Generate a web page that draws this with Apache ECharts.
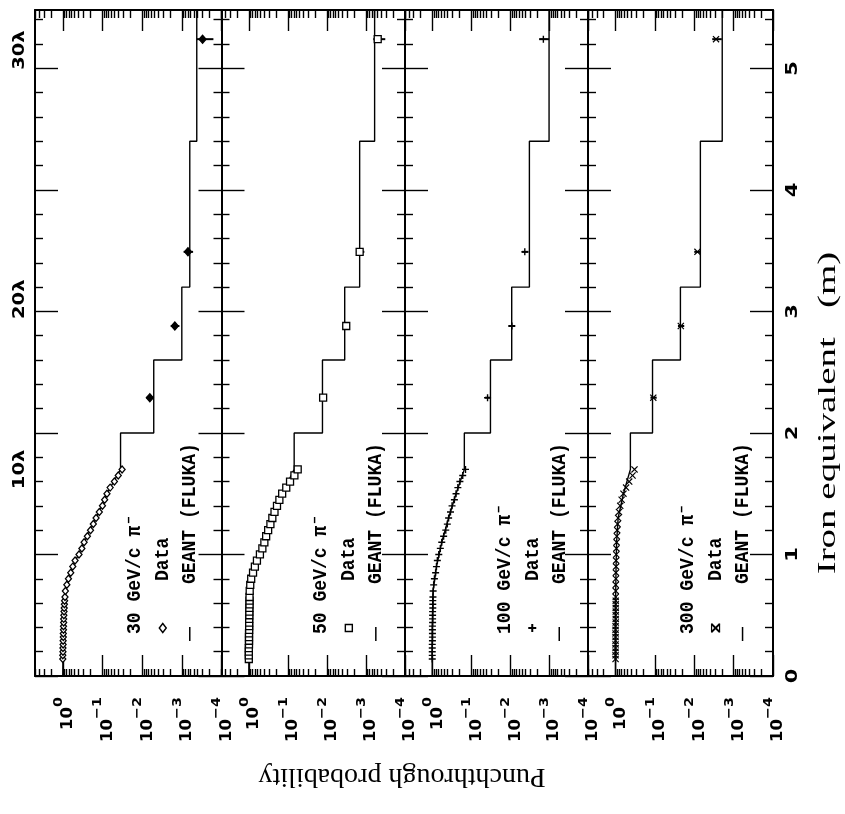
<!DOCTYPE html>
<html><head><meta charset="utf-8">
<script src="https://cdn.jsdelivr.net/npm/echarts@6/dist/echarts.min.js"></script>
<style>html,body{margin:0;padding:0;background:#fff}#c{width:845px;height:814px}</style>
</head><body><div id="c"></div>
<script>
// ---------- data ----------
const panelTitles = ['30 GeV/c π⁻', '50 GeV/c π⁻', '100 GeV/c π⁻', '300 GeV/c π⁻'];
const probTickValues = [1, 0.1, 0.01, 0.001, 0.0001];
const probTickBase = ['10', '10', '10', '10', '10'];
const probTickExp = ['0', '−1', '−2', '−3', '−4'];
const depthTickValues = [0, 1, 2, 3, 4, 5];
const depthTickLabels = ['0', '1', '2', '3', '4', '5'];
const lambdaLabels = ['10λ', '20λ', '30λ'];
const lambdaDepths = [1.70, 3.10, 5.15];

const denseDepth = [0.14,0.17,0.20,0.23,0.26,0.29,0.32,0.35,0.38,0.41,0.44,0.47,0.50,0.53,0.56,0.59,0.62,0.65,
  0.70,0.75,0.80,0.85,0.90,0.95,1.00,1.05,1.10,1.15,1.20,1.25,1.30,1.35,1.40,1.45,1.50,1.55,1.60,1.65,1.70];
const data30 = [1.00,1.00,0.99,0.99,0.98,0.98,0.97,0.97,0.96,0.96,0.95,0.95,0.94,0.93,0.92,0.91,0.90,0.88,
  0.86,0.79,0.72,0.63,0.56,0.49,0.39,0.33,0.29,0.24,0.20,0.17,0.145,0.12,0.10,0.088,0.077,0.064,0.050,0.040,0.032];
const data50 = [1.00,1.00,1.00,1.00,0.99,0.99,0.99,0.99,0.98,0.98,0.98,0.98,0.97,0.97,0.97,0.96,0.96,0.96,
  0.95,0.92,0.87,0.78,0.70,0.62,0.52,0.45,0.40,0.36,0.32,0.28,0.25,0.22,0.19,0.165,0.14,0.11,0.088,0.068,0.056];
const data100 = [1.00,1.00,1.00,1.00,1.00,0.99,0.99,0.99,0.99,0.99,0.98,0.98,0.98,0.98,0.97,0.97,0.97,0.96,
  0.95,0.92,0.88,0.82,0.78,0.74,0.68,0.62,0.57,0.51,0.45,0.41,0.38,0.34,0.31,0.27,0.245,0.22,0.195,0.165,0.14];
const data300 = [1.00,1.00,1.00,1.00,1.00,1.00,1.00,1.00,1.00,1.00,0.99,0.99,0.99,0.99,0.99,0.99,0.99,0.99,
  0.99,0.99,0.98,0.98,0.97,0.97,0.96,0.95,0.94,0.93,0.91,0.89,0.86,0.82,0.76,0.70,0.63,0.54,0.45,0.37,0.33];

const sparseDepth = [2.29, 2.88, 3.49, 5.24];
const sparse30 = [6.4e-3, 1.5e-3, 7.0e-4, 3.0e-4];
const sparse50 = [1.25e-2, 3.2e-3, 1.45e-3, 5.0e-4];
const sparse100 = [3.8e-2, 9.0e-3, 4.2e-3, 1.4e-3];
const sparse300 = [1.1e-1, 2.2e-2, 8.3e-3, 2.8e-3];
const sparse30Up = [7.8e-3, 1.9e-3, 9.0e-4, 4.2e-4];
const sparse30Dn = [5.2e-3, 1.15e-3, 5.2e-4, 1.6e-4];
const sparse50Up = [1.5e-2, 3.9e-3, 1.8e-3, 6.5e-4];
const sparse50Dn = [1.0e-2, 2.6e-3, 1.1e-3, 3.2e-4];
const sparse100Up = [4.4e-2, 1.1e-2, 5.0e-3, 1.8e-3];
const sparse100Dn = [3.2e-2, 7.5e-3, 3.4e-3, 1.0e-3];
const sparse300Up = [1.3e-1, 2.6e-2, 1.0e-2, 3.5e-3];
const sparse300Dn = [9.0e-2, 1.8e-2, 6.8e-3, 2.0e-3];

const geantCurveDepth = [0, 0.4, 0.7, 0.9, 1.1, 1.3, 1.5, 1.7];
const geant30Curve = [1.0, 0.97, 0.86, 0.56, 0.29, 0.145, 0.077, 0.035];
const geant50Curve = [1.0, 0.99, 0.95, 0.70, 0.40, 0.25, 0.14, 0.069];
const geant100Curve = [1.0, 0.99, 0.95, 0.78, 0.57, 0.38, 0.245, 0.15];
const geant300Curve = [1.0, 1.0, 0.99, 0.97, 0.94, 0.86, 0.63, 0.42];
const stepEdges = [1.7, 2.0, 2.6, 3.2, 4.4, 5.48];
const geant30Steps = [0.035, 5.1e-3, 1.0e-3, 6.3e-4, 4.2e-4];
const geant50Steps = [0.069, 0.013, 3.5e-3, 1.45e-3, 6.0e-4];
const geant100Steps = [0.15, 0.032, 9.1e-3, 3.2e-3, 1.0e-3];
const geant300Steps = [0.42, 0.115, 0.0225, 7.0e-3, 1.95e-3];

// ---------- layout / style ----------
const XMIN = 1e-4, XMAX = Math.pow(10, 0.7), YMIN = 0, YMAX = 5.48;
const TOP = 10, HEIGHT = 666;
const EDGES = [35, 221.5, 405, 588, 773];
const symbols = ['diamond', 'rect',
  'path://M4,0H6V4H10V6H6V10H4V6H0V4H4Z',
  'path://M0,1.2L1.2,0L5,3.8L8.8,0L10,1.2L6.2,5L10,8.8L8.8,10L5,6.2L1.2,10L0,8.8L3.8,5Z'];
const symbolFill = ['#fff', '#fff', '#000', '#000'];
const sparseFill = ['#000', '#fff', '#000', '#000'];
const panels = [
  {dense: data30, sparse: sparse30, up: sparse30Up, dn: sparse30Dn, curve: geant30Curve, steps: geant30Steps},
  {dense: data50, sparse: sparse50, up: sparse50Up, dn: sparse50Dn, curve: geant50Curve, steps: geant50Steps},
  {dense: data100, sparse: sparse100, up: sparse100Up, dn: sparse100Dn, curve: geant100Curve, steps: geant100Steps},
  {dense: data300, sparse: sparse300, up: sparse300Up, dn: sparse300Dn, curve: geant300Curve, steps: geant300Steps}
];

const minorX = [];
for (let e = -4; e <= 0; e++) for (let m = 2; m <= 9; m++) { const v = m * Math.pow(10, e); if (v <= XMAX) minorX.push(v); }
const minorY = [];
for (let k = 1; k * 0.2 < YMAX; k++) if (k % 5 !== 0) minorY.push(Math.round(k * 2) / 10);

const grids = [], xAxes = [], yAxes = [], series = [];
const LINE = {color: '#000', width: 2};
const TICK = {color: '#000', width: 1.4};

function xAx(g, pos, ticks, len, line) {
  return {gridIndex: g, type: 'log', logBase: 10, min: XMIN, max: XMAX, inverse: true, position: pos,
    axisLine: {show: line, onZero: false, lineStyle: LINE},
    axisTick: {show: true, inside: true, length: len, customValues: ticks, lineStyle: TICK},
    minorTick: {show: false}, splitLine: {show: false}, axisLabel: {show: false}};
}
function yAx(g, pos, ticks, len, line) {
  return {gridIndex: g, type: 'value', min: YMIN, max: YMAX, position: pos,
    axisLine: {show: line, onZero: false, lineStyle: LINE},
    axisTick: {show: true, inside: true, length: len, customValues: ticks, lineStyle: TICK},
    minorTick: {show: false}, splitLine: {show: false}, axisLabel: {show: false}};
}

const mainX = [];
panels.forEach((p, i) => {
  const left = EDGES[i], width = EDGES[i + 1] - EDGES[i];
  const g = grids.length;
  grids.push({left: left, top: TOP, width: width, height: HEIGHT, containLabel: false, outerBoundsMode: 'none'});
  const bx = xAxes.length;
  xAxes.push(xAx(g, 'bottom', probTickValues, 21, true));
  xAxes.push(xAx(g, 'top', probTickValues, 21, true));
  const ly = yAxes.length;
  yAxes.push(yAx(g, 'left', depthTickValues, 23, true));
  yAxes.push(yAx(g, 'right', depthTickValues, 23, true));
  mainX.push(bx);
  const g2 = grids.length;
  grids.push({left: left, top: TOP, width: width, height: HEIGHT, containLabel: false, outerBoundsMode: 'none'});
  xAxes.push(xAx(g2, 'bottom', minorX, 7, false));
  xAxes.push(xAx(g2, 'top', minorX, 8, false));
  yAxes.push(yAx(g2, 'left', minorY, 8, false));
  yAxes.push(yAx(g2, 'right', minorY, 8, false));

  const gl = p.curve.map((v, k) => [v, geantCurveDepth[k]]);
  p.steps.forEach((v, k) => { gl.push([v, stepEdges[k]]); gl.push([v, stepEdges[k + 1]]); });
  series.push({type: 'line', xAxisIndex: bx, yAxisIndex: ly, data: gl, showSymbol: false, symbol: 'none',
    lineStyle: {color: '#000', width: 1.4}, z: 1, silent: true});
  series.push({type: 'custom', xAxisIndex: bx, yAxisIndex: ly, z: 2, silent: true,
    data: sparseDepth.map((d, k) => [p.up[k], p.dn[k], d]),
    renderItem: function (params, api) {
      const a = api.coord([api.value(0), api.value(2)]);
      const b = api.coord([api.value(1), api.value(2)]);
      return {type: 'line', shape: {x1: a[0], y1: a[1], x2: b[0], y2: b[1]}, style: {stroke: '#000', lineWidth: 2}};
    }});
  series.push({type: 'scatter', xAxisIndex: bx, yAxisIndex: ly, data: denseDepth.map((d, k) => [p.dense[k], d]),
    symbol: symbols[i], symbolSize: i === 0 ? [6, 7] : 7, z: 3, silent: true,
    itemStyle: {color: symbolFill[i], borderColor: '#000', borderWidth: i < 2 ? 1.3 : 0, opacity: 1}});
  series.push({type: 'scatter', xAxisIndex: bx, yAxisIndex: ly, data: sparseDepth.map((d, k) => [p.sparse[k], d]),
    symbol: symbols[i], symbolSize: i === 0 ? [7, 8] : 7, z: 3, silent: true,
    itemStyle: {color: sparseFill[i], borderColor: '#000', borderWidth: i < 2 ? 1.3 : 0, opacity: 1}});
});

const chart = echarts.init(document.getElementById('c'), null, {renderer: 'canvas'});
chart.setOption({animation: false, backgroundColor: '#fff', grid: grids, xAxis: xAxes, yAxis: yAxes, series: series});

// ---------- text / legends ----------
const graphics = [];
const monoFont = 'bold 21px "Liberation Mono", "DejaVu Sans Mono", monospace';
const MONO_SCALE = 0.86;
function legendSymbol(i, cx, cy) {
  const st = {stroke: '#000', lineWidth: 1.4, fill: '#fff'};
  if (i === 0) return [{type: 'polygon', shape: {points: [[cx, cy - 4.5], [cx + 3.5, cy], [cx, cy + 4.5], [cx - 3.5, cy]]}, style: st}];
  if (i === 1) return [{type: 'rect', shape: {x: cx - 3.5, y: cy - 3.5, width: 7, height: 7}, style: st}];
  if (i === 2) return [
    {type: 'line', shape: {x1: cx - 4, y1: cy, x2: cx + 4, y2: cy}, style: {stroke: '#000', lineWidth: 2}},
    {type: 'line', shape: {x1: cx, y1: cy - 4, x2: cx, y2: cy + 4}, style: {stroke: '#000', lineWidth: 2}}];
  return [
    {type: 'line', shape: {x1: cx - 4, y1: cy - 4, x2: cx + 4, y2: cy + 4}, style: {stroke: '#000', lineWidth: 1.8}},
    {type: 'line', shape: {x1: cx - 4, y1: cy + 4, x2: cx + 4, y2: cy - 4}, style: {stroke: '#000', lineWidth: 1.8}},
    {type: 'line', shape: {x1: cx - 4, y1: cy - 4.5, x2: cx - 4, y2: cy + 4.5}, style: {stroke: '#000', lineWidth: 1.2}},
    {type: 'line', shape: {x1: cx + 4, y1: cy - 4.5, x2: cx + 4, y2: cy + 4.5}, style: {stroke: '#000', lineWidth: 1.2}}];
}
function vText(text, x, y, font, align, scale) {
  return {type: 'text', x: x, y: y, rotation: Math.PI / 2, scaleX: scale, silent: true,
    style: {text: text, font: font, fill: '#000', align: align, verticalAlign: 'middle'}};
}
const tickRich = {
  b: {fontFamily: 'DejaVu Sans', fontWeight: 'bold', fontSize: 15, lineHeight: 24, verticalAlign: 'bottom'},
  e: {fontFamily: 'DejaVu Sans', fontWeight: 'bold', fontSize: 13, lineHeight: 24, verticalAlign: 'top'}
};
panels.forEach((p, i) => {
  const zx = chart.convertToPixel({xAxisIndex: mainX[i]}, 1);
  graphics.push(vText(panelTitles[i], zx + 72, 634, monoFont, 'left', MONO_SCALE));
  legendSymbol(i, zx + 100, 628).forEach(e => { e.silent = true; graphics.push(e); });
  graphics.push(vText('Data', zx + 100, 581, monoFont, 'left', MONO_SCALE));
  graphics.push({type: 'line', silent: true, shape: {x1: zx + 127, y1: 627, x2: zx + 127, y2: 641}, style: {stroke: '#000', lineWidth: 1.5}});
  graphics.push(vText('GEANT (FLUKA)', zx + 127, 584, monoFont, 'left', MONO_SCALE));
  probTickValues.forEach((v, k) => {
    const x = chart.convertToPixel({xAxisIndex: mainX[i]}, v);
    graphics.push({type: 'text', x: x + 1, y: 697, rotation: Math.PI / 2, scaleX: 1.1, silent: true,
      style: {text: '{b|' + probTickBase[k] + '}{e|' + probTickExp[k] + '}', rich: tickRich, fill: '#000',
        align: 'right', verticalAlign: 'middle'}});
  });
});
depthTickValues.forEach((v, k) => {
  const y = chart.convertToPixel({yAxisIndex: 0}, v);
  graphics.push(vText(depthTickLabels[k], 793, y, 'bold 15px "DejaVu Sans"', 'center', 1.4));
});
lambdaLabels.forEach((t, k) => {
  const y = chart.convertToPixel({yAxisIndex: 0}, lambdaDepths[k]);
  graphics.push(vText(t, 20, y, 'bold 15px "DejaVu Sans"', 'center', 1.3));
});
graphics.push({type: 'text', x: 402, y: 776, rotation: Math.PI, silent: true,
  style: {text: 'Punchthrough probability', font: '28px "Liberation Serif"', fill: '#000', align: 'center', verticalAlign: 'middle'}});
graphics.push(vText('Iron equivalent   (m)', 828, 413, '26px "Liberation Serif"', 'center', 1.5));
chart.setOption({graphic: graphics});
</script></body></html>
